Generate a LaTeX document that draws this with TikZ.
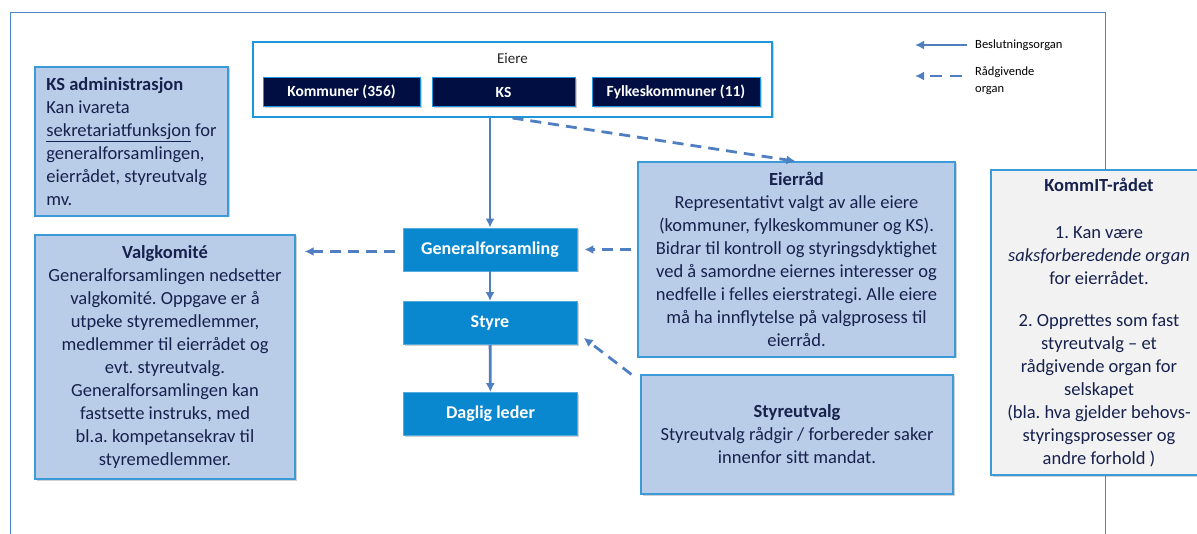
\documentclass[tikz,border=0pt]{standalone}
\usepackage{fontspec}
\setmainfont{Carlito}
\usetikzlibrary{arrows.meta,shadows}
\frenchspacing
\definecolor{Frame}{HTML}{4A86C8}
\definecolor{OwnerLine}{HTML}{1E96DC}
\definecolor{OwnerFill}{HTML}{000E41}
\definecolor{MainBlue}{HTML}{0A88CF}
\definecolor{LightFill}{HTML}{B9CDE8}
\definecolor{LightLine}{HTML}{3C9AD8}
\definecolor{GreyFill}{HTML}{F2F2F2}
\definecolor{TextNavy}{HTML}{17214D}
\definecolor{Link}{HTML}{4F7FC0}

\begin{document}
\begin{tikzpicture}[x=1pt,y=-1pt,
  shade/.style={drop shadow={shadow xshift=1.5pt, shadow yshift=-1.5pt, opacity=0.3, fill=black!60}},
  lightbox/.style={draw=LightLine, fill=LightFill, line width=1.2pt, text=TextNavy, inner sep=0pt,
    align=center, font=\fontsize{18.5}{23}\selectfont, shade},
  greybox/.style={lightbox, fill=GreyFill},
  bluebox/.style={draw=MainBlue!70!white, fill=MainBlue, text=white, inner sep=0pt, line width=0.8pt,
    minimum width=174pt, minimum height=43pt, font=\bfseries\fontsize{18}{22}\selectfont, shade},
  ownerbox/.style={draw=OwnerLine, fill=OwnerFill, text=white, inner sep=0pt, line width=1pt,
    minimum height=29pt, font=\bfseries\fontsize{15.5}{18}\selectfont, shade},
  decide/.style={draw=Link, line width=2.8pt, -{Latex[length=9pt,width=9pt]}},
  advise/.style={decide, dash pattern=on 11pt off 7pt}]
\useasboundingbox (0,0) rectangle (1197,534);
\clip (0,0) rectangle (1197,534);
% outer frame
\draw[Frame, line width=1pt] (10,13) rectangle (1105,600);
% owners
\node[draw=OwnerLine, line width=2pt, fill=white, minimum width=519pt, minimum height=75pt, inner sep=0pt, shade] (eiere) at (512.5,79.5) {};
\node[font=\fontsize{15}{18}\selectfont, text=black!85] (eieretitle) at (512.5,58) {Eiere};
\node[ownerbox, minimum width=157pt] (kommuner) at (341.5,92) {Kommuner (356)};
\node[ownerbox, minimum width=143pt] (ks) at (503.5,92.5) {KS};
\node[ownerbox, minimum width=168pt] (fylke) at (676,92) {Fylkeskommuner (11)};
% main line
\node[bluebox] (gf) at (490,249.5) {Generalforsamling};
\node[bluebox] (styre) at (490,323) {Styre};
\node[bluebox] (leder) at (490.5,414) {Daglig leder};
% side boxes
\node[lightbox, align=left, minimum width=193pt, minimum height=149pt] (ksadm) at (131.5,141.5)
  {\textbf{KS administrasjon}\\Kan ivareta\\\underline{sekretariatfunksjon} for\\generalforsamlingen,\\eierrådet, styreutvalg\\mv.};
\node[lightbox, minimum width=260pt, minimum height=244pt] (valg) at (165,357)
  {\textbf{Valgkomité}\\Generalforsamlingen nedsetter\\valgkomité. Oppgave er å\\utpeke styremedlemmer,\\medlemmer til eierrådet og\\evt. styreutvalg.\\Generalforsamlingen kan\\fastsette instruks, med\\bl.a. kompetansekrav til\\styremedlemmer.};
\node[lightbox, minimum width=317pt, minimum height=195pt] (eierrad) at (796.5,259.5)
  {\textbf{Eierråd}\\Representativt valgt av alle eiere\\(kommuner, fylkeskommuner og KS).\\Bidrar til kontroll og styringsdyktighet\\ved å samordne eiernes interesser og\\nedfelle i felles eierstrategi. Alle eiere\\må ha innflytelse på valgprosess til\\eierråd.};
\node[lightbox, minimum width=312pt, minimum height=119pt] (styreutvalg) at (797,434.5)
  {\textbf{Styreutvalg}\\Styreutvalg rådgir / forbereder saker\\innenfor sitt mandat.};
\node[greybox, minimum width=216pt, minimum height=305pt] (kommit) at (1099,322.5)
  {\textbf{KommIT-rådet}\\[24pt]1. Kan være\\\textit{saksforberedende organ}\\for eierrådet.\\[19pt]2. Opprettes som fast\\styreutvalg – et\\rådgivende organ for\\selskapet\\(bla. hva gjelder behovs-\\styringsprosesser og\\andre forhold )};
% connectors
\draw[decide] (gf.north |- eiere.south) -- (gf.north);
\draw[decide] (gf) -- (styre);
\draw[decide] (styre) -- (leder);
\draw[advise, shorten >=1pt] (eiere.south) -- (eierrad.north);
\draw[advise, shorten <=6pt, shorten >=7pt] (eierrad.west |- gf.east) -- (gf.east);
\draw[advise, shorten <=8pt, shorten >=9pt] ([yshift=-2pt]gf.west) -- ([yshift=-2pt]gf.west -| valg.east);
\draw[advise, shorten >=8pt] ([xshift=-9pt]styreutvalg.north west) -- ([yshift=-10pt]styre.east);
% legend
\coordinate (legdecA) at (967,45);
\coordinate (legdecB) at (915,45);
\coordinate (legadvA) at (962,76);
\coordinate (legadvB) at (915,76);
\draw[decide] (legdecA) -- (legdecB);
\draw[advise, dash pattern=on 12pt off 8pt] (legadvA) -- (legadvB);
\node[anchor=west, inner sep=0pt, font=\fontsize{12.5}{17}\selectfont] (legdec) at (975,45) {Beslutningsorgan};
\node[anchor=west, inner sep=0pt, align=left, font=\fontsize{12.5}{17}\selectfont] (legadv) at (975,81) {Rådgivende\\organ};
\end{tikzpicture}
\end{document}
